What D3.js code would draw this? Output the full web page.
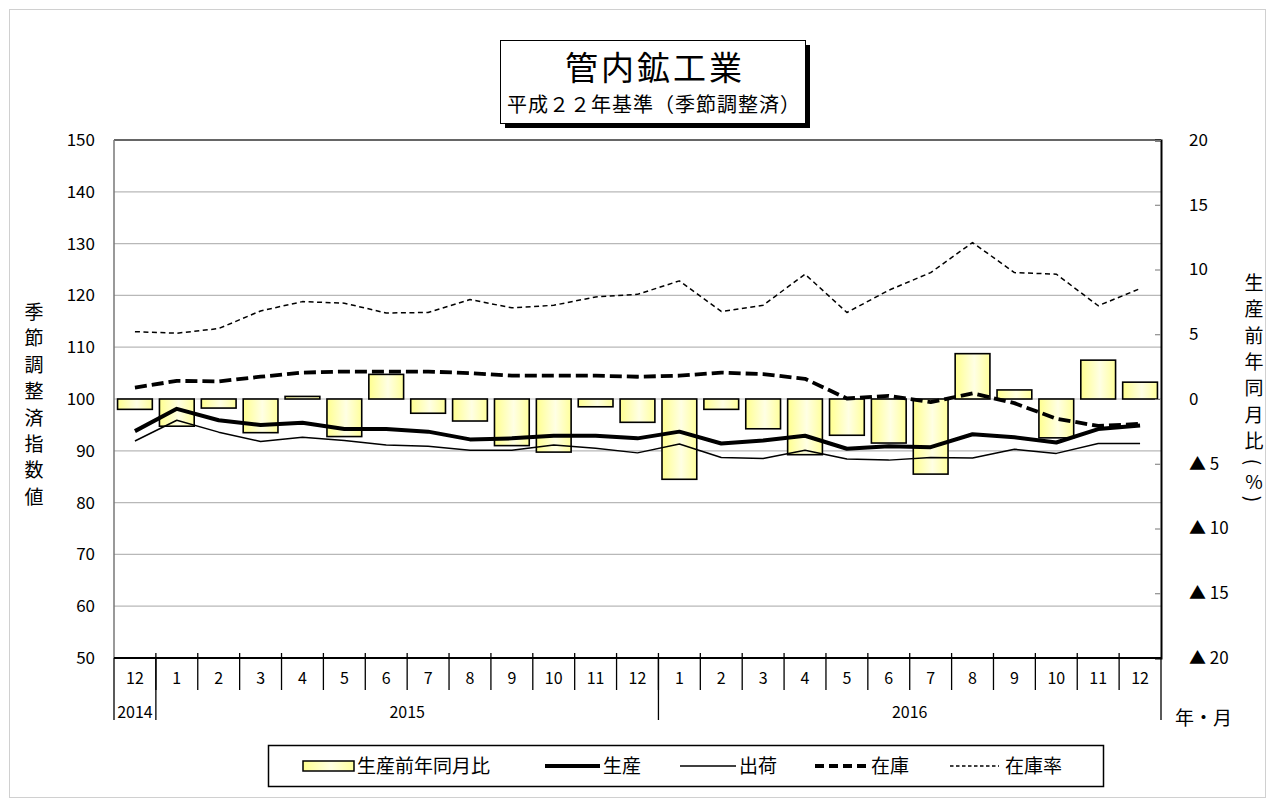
<!DOCTYPE html>
<html>
<head>
<meta charset="utf-8">
<script src="https://cdn.jsdelivr.net/npm/d3@7"></script>
<style>
  body { margin: 0; background: #fff; }
  svg text { font-family: "Noto Sans CJK JP", "Noto Sans", sans-serif; fill: #000; }
</style>
</head>
<body>
<div id="chart"></div>
<script>
// months 2014/12 .. 2016/12
const months = ["12", "1", "2", "3", "4", "5", "6", "7", "8", "9", "10", "11", "12",
                "1", "2", "3", "4", "5", "6", "7", "8", "9", "10", "11", "12"];
const yearLabels = ["2014", "2015", "2016"];
const yearFrom = [0, 1, 13];
const yearTo = [1, 13, 25];

// 生産前年同月比 (%), right axis
const yoy = [-0.8, -2.1, -0.7, -2.6, 0.2, -2.9, 1.9, -1.1, -1.7, -3.6, -4.1, -0.6, -1.8,
             -6.2, -0.8, -2.3, -4.3, -2.8, -3.4, -5.8, 3.5, 0.7, -3.0, 3.0, 1.3];
// indices, left axis
const production = [93.8, 98.1, 95.9, 95.0, 95.4, 94.2, 94.2, 93.7, 92.2, 92.4, 92.9, 92.9, 92.4,
                    93.7, 91.4, 92.0, 92.9, 90.4, 90.9, 90.7, 93.2, 92.6, 91.6, 94.2, 94.9];
const shipments = [91.9, 95.9, 93.6, 91.8, 92.6, 92.0, 91.1, 90.9, 90.1, 90.1, 91.1, 90.5, 89.6,
                   91.3, 88.7, 88.5, 90.1, 88.4, 88.2, 88.7, 88.6, 90.3, 89.5, 91.4, 91.4];
const inventory = [102.2, 103.5, 103.4, 104.3, 105.1, 105.3, 105.3, 105.3, 105.0, 104.5, 104.5, 104.5, 104.3,
                   104.5, 105.1, 104.8, 103.9, 100.1, 100.6, 99.4, 101.1, 99.2, 96.2, 94.8, 95.2];
const inventoryRatio = [113.0, 112.7, 113.6, 117.0, 118.8, 118.5, 116.6, 116.7, 119.2, 117.6, 118.1, 119.7, 120.2,
                        122.8, 116.9, 118.1, 124.1, 116.7, 121.0, 124.4, 130.2, 124.4, 124.1, 118.0, 121.3];

const leftTicks = [50, 60, 70, 80, 90, 100, 110, 120, 130, 140, 150];
const rightTicks = [-20, -15, -10, -5, 0, 5, 10, 15, 20];

const width = 1275, height = 807;
const plot = {left: 114, right: 1161, top: 140, bottom: 658};

const svg = d3.select("#chart").append("svg")
    .attr("width", width)
    .attr("height", height);

const defs = svg.append("defs");
const grad = defs.append("linearGradient").attr("id", "barFill")
    .attr("x1", "0%").attr("x2", "100%").attr("y1", "0%").attr("y2", "0%");
grad.append("stop").attr("offset", "0%").attr("stop-color", "#ffff8f");
grad.append("stop").attr("offset", "55%").attr("stop-color", "#ffffe4");
grad.append("stop").attr("offset", "100%").attr("stop-color", "#ffff9c");

// outer frame
svg.append("rect")
    .attr("x", 9.5).attr("y", 9.5)
    .attr("width", 1256).attr("height", 788)
    .attr("fill", "none").attr("stroke", "#d0d0d0");

const x = d3.scaleBand().domain(d3.range(months.length))
    .range([plot.left, plot.right])
    .paddingInner(0.17).paddingOuter(0.085);
const step = x.step();
const xc = i => x(i) + x.bandwidth() / 2;
const xEdge = i => plot.left + i * step;

const yL = d3.scaleLinear().domain([50, 150]).range([plot.bottom, plot.top]);
const yR = d3.scaleLinear().domain([-20, 20]).range([plot.bottom, plot.top]);

// gridlines
svg.append("g").selectAll("line")
    .data(leftTicks.filter(d => d > 50 && d < 150))
    .enter().append("line")
    .attr("x1", plot.left).attr("x2", plot.right)
    .attr("y1", d => yL(d)).attr("y2", d => yL(d))
    .attr("stroke", "#b8b8b8").attr("stroke-width", 1.2);

// plot frame top / left
svg.append("line")
    .attr("x1", plot.left).attr("x2", plot.right)
    .attr("y1", plot.top).attr("y2", plot.top)
    .attr("stroke", "#333").attr("stroke-width", 1.5);
svg.append("line")
    .attr("x1", plot.left).attr("x2", plot.left)
    .attr("y1", plot.top).attr("y2", plot.bottom)
    .attr("stroke", "#777").attr("stroke-width", 1.5);

// bars
svg.append("g").selectAll("rect")
    .data(yoy)
    .enter().append("rect")
    .attr("x", (d, i) => x(i))
    .attr("width", x.bandwidth())
    .attr("y", d => Math.min(yR(d), yR(0)))
    .attr("height", d => Math.abs(yR(d) - yR(0)))
    .attr("fill", "url(#barFill)")
    .attr("stroke", "#000").attr("stroke-width", 1.6);

// lines
const line = d3.line().x((d, i) => xc(i)).y(d => yL(d));
const series = [
    {data: inventoryRatio, w: 1.5, dash: "5,3.5"},
    {data: shipments, w: 1.5, dash: null},
    {data: inventory, w: 3.8, dash: "12,5"},
    {data: production, w: 4, dash: null}
];
series.forEach(s => {
    svg.append("path")
        .attr("d", line(s.data))
        .attr("fill", "none")
        .attr("stroke", "#000")
        .attr("stroke-width", s.w)
        .attr("stroke-linejoin", "round")
        .attr("stroke-dasharray", s.dash);
});

// left axis
const leftAxis = d3.axisLeft(yL).tickValues(leftTicks).tickSize(0).tickPadding(19);
const gL = svg.append("g").attr("transform", `translate(${plot.left},0)`).call(leftAxis);
gL.select(".domain").remove();
gL.selectAll("text").style("font-size", "17px");

// right axis
const rightAxis = d3.axisRight(yR).tickValues(rightTicks).tickSize(-6).tickPadding(28)
    .tickFormat(d => d < 0 ? "▲ " + (-d) : d);
const gR = svg.append("g").attr("transform", `translate(${plot.right},0)`).call(rightAxis);
gR.select(".domain").attr("stroke", "#000").attr("stroke-width", 2);
gR.selectAll(".tick line").attr("stroke", "#777");
gR.selectAll("text").style("font-size", "17px");

// x axis line
svg.append("line")
    .attr("x1", plot.left).attr("x2", plot.right)
    .attr("y1", plot.bottom).attr("y2", plot.bottom)
    .attr("stroke", "#000").attr("stroke-width", 2.2);

// month separators
svg.append("g").selectAll("line")
    .data(d3.range(1, months.length))
    .enter().append("line")
    .attr("x1", d => xEdge(d)).attr("x2", d => xEdge(d))
    .attr("y1", plot.bottom - 5).attr("y2", 690)
    .attr("stroke", "#000").attr("stroke-width", 1.3);

// year separators
const yearEdges = [0, 1, 13, 25];
svg.append("g").selectAll("line")
    .data(yearEdges)
    .enter().append("line")
    .attr("x1", d => xEdge(d)).attr("x2", d => xEdge(d))
    .attr("y1", plot.bottom).attr("y2", 720)
    .attr("stroke", "#000").attr("stroke-width", 1.3);

svg.append("g").selectAll("text")
    .data(months)
    .enter().append("text")
    .attr("x", (d, i) => xc(i))
    .attr("y", 684)
    .attr("text-anchor", "middle")
    .style("font-size", "16px")
    .text(d => d);

svg.append("g").selectAll("text")
    .data(yearLabels)
    .enter().append("text")
    .attr("x", (d, i) => (xEdge(yearFrom[i]) + xEdge(yearTo[i])) / 2)
    .attr("y", 718)
    .attr("text-anchor", "middle")
    .style("font-size", "16px")
    .text(d => d);

svg.append("text")
    .attr("x", 1175).attr("y", 725)
    .style("font-size", "19px")
    .text("年・月");

// left axis title (stacked)
const leftTitle = "季節調整済指数値".split("");
svg.append("g").selectAll("text")
    .data(leftTitle)
    .enter().append("text")
    .attr("x", 34)
    .attr("y", (d, i) => 319 + i * 26.4)
    .attr("text-anchor", "middle")
    .style("font-size", "19px")
    .text(d => d);

// right axis title (stacked)
const rightTitle = "生産前年同月比".split("");
svg.append("g").selectAll("text")
    .data(rightTitle)
    .enter().append("text")
    .attr("x", 1254)
    .attr("y", (d, i) => 290 + i * 26.3)
    .attr("text-anchor", "middle")
    .style("font-size", "19px")
    .text(d => d);
[["(", 462], ["%", 480], [")", 499]].forEach(([ch, cy]) => {
    const t = svg.append("text")
        .attr("text-anchor", "middle")
        .attr("dominant-baseline", "central")
        .style("font-size", "19px")
        .text(ch);
    if (ch === "%") t.attr("x", 1254).attr("y", cy);
    else t.attr("transform", `translate(1254,${cy}) rotate(90)`);
});

// title box
svg.append("rect")
    .attr("x", 505).attr("y", 45).attr("width", 305).attr("height", 83)
    .attr("fill", "#000");
svg.append("rect")
    .attr("x", 500.5).attr("y", 40.5).attr("width", 305).attr("height", 83)
    .attr("fill", "#fff").attr("stroke", "#000").attr("stroke-width", 1);
svg.append("text")
    .attr("x", 655).attr("y", 80)
    .attr("text-anchor", "middle")
    .style("font-size", "33px")
    .style("letter-spacing", "3px")
    .text("管内鉱工業");
svg.append("text")
    .attr("x", 654).attr("y", 112)
    .attr("text-anchor", "middle")
    .style("font-size", "20px")
    .style("letter-spacing", "1px")
    .text("平成２２年基準（季節調整済）");

// legend
const lg = svg.append("g");
lg.append("rect")
    .attr("x", 268.5).attr("y", 745.5).attr("width", 835).attr("height", 41)
    .attr("fill", "#fff").attr("stroke", "#000").attr("stroke-width", 1.5);
const ly = 766;
lg.append("rect")
    .attr("x", 303).attr("y", ly - 5).attr("width", 51).attr("height", 10)
    .attr("fill", "url(#barFill)").attr("stroke", "#000").attr("stroke-width", 1.5);
const legendItems = [
    {label: "生産前年同月比", tx: 357, line: null},
    {label: "生産", tx: 603, line: [545, 600], w: 4, dash: null},
    {label: "出荷", tx: 739, line: [680, 736], w: 1.5, dash: null},
    {label: "在庫", tx: 871, line: [815, 869], w: 3.8, dash: "9,5"},
    {label: "在庫率", tx: 1005, line: [950, 999], w: 1.3, dash: "3.5,2.5"}
];
legendItems.forEach(it => {
    if (it.line) {
        lg.append("line")
            .attr("x1", it.line[0]).attr("x2", it.line[1])
            .attr("y1", ly).attr("y2", ly)
            .attr("stroke", "#000").attr("stroke-width", it.w)
            .attr("stroke-dasharray", it.dash);
    }
    lg.append("text")
        .attr("x", it.tx).attr("y", ly + 7)
        .style("font-size", "19px")
        .text(it.label);
});
</script>
</body>
</html>
